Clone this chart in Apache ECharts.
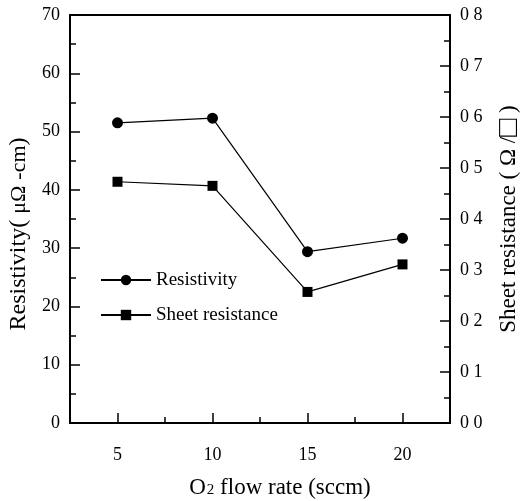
<!DOCTYPE html>
<html>
<head>
<meta charset="utf-8">
<script src="https://cdn.jsdelivr.net/npm/echarts@6/dist/echarts.min.js"></script>
<style>
  html, body { margin: 0; padding: 0; background: #fff; }
  #chart { width: 526px; height: 501px; }
</style>
</head>
<body>
<div id="chart"></div>
<script>
// O2 flow rate (sccm) and the measured film properties
const flowRates = [5, 10, 15, 20];
const resistivity = [51.5, 52.3, 29.4, 31.7];      // µΩ·cm
const sheetResistance = [0.473, 0.465, 0.257, 0.311]; // Ω/□

// Tick positions along the flow-rate axis (every 2.5 sccm, labelled every 5)
const flowTicks = ['2.5', '5', '7.5', '10', '12.5', '15', '17.5', '20', '22.5'];

const FONT = '"Liberation Serif", "Times New Roman", serif';
const INK = '#000';

const chart = echarts.init(document.getElementById('chart'), null, { renderer: 'canvas' });

const grid = {
  left: 70, right: 76, top: 15, bottom: 78,
  containLabel: false, outerBoundsMode: 'none',
  show: true, borderColor: INK, borderWidth: 2
};

const option = {
  animation: false,
  backgroundColor: '#fff',
  grid: grid,
  legend: {
    orient: 'vertical',
    left: 95,
    top: 265,
    itemWidth: 50,
    itemHeight: 13,
    itemGap: 15,
    textStyle: { fontFamily: FONT, fontSize: 19, color: INK, lineHeight: 20 },
    data: ['Resistivity', 'Sheet resistance']
  },
  xAxis: [
    {
      type: 'value',
      min: 2.5,
      max: 22.5,
      interval: 2.5,
      name: 'O{sub|2} flow rate (sccm)',
      nameLocation: 'middle',
      nameGap: 53,
      nameTextStyle: {
        fontFamily: FONT, fontSize: 23, color: INK, padding: [0, 0, 0, 40],
        rich: { sub: { fontFamily: FONT, fontSize: 15, color: INK, padding: [6, 0, 0, 1] } }
      },
      axisLine: { lineStyle: { color: INK, width: 2 } },
      axisTick: { inside: true, length: 6, lineStyle: { color: INK, width: 1.5 } },
      axisLabel: {
        fontFamily: FONT, fontSize: 18, color: INK, margin: 23,
        formatter: v => (v % 5 === 0 ? String(v) : '')
      },
      splitLine: { show: false }
    },
    {
      // longer ticks on the labelled flow rates
      type: 'category',
      position: 'bottom',
      boundaryGap: false,
      data: flowTicks,
      axisLine: { show: false },
      axisLabel: { show: false },
      axisTick: {
        inside: true, length: 10, lineStyle: { color: INK, width: 1.5 },
        interval: (idx) => idx % 2 === 1
      },
      splitLine: { show: false }
    }
  ],
  yAxis: [
    {
      type: 'value',
      min: 0,
      max: 70,
      interval: 10,
      position: 'left',
      name: 'Resistivity( {u|μΩ} {u|-cm})',
      nameLocation: 'middle',
      nameRotate: 90,
      nameGap: 37,
      nameTextStyle: {
        fontFamily: FONT, fontSize: 24, color: INK, padding: [0, 30, 0, 0],
        rich: { u: { fontFamily: FONT, fontSize: 22, color: INK } }
      },
      axisLine: { show: true, lineStyle: { color: INK, width: 2 } },
      axisTick: { show: true, inside: true, length: 10, lineStyle: { color: INK, width: 1.5 } },
      minorTick: { show: true, splitNumber: 2, length: 6, lineStyle: { color: INK, width: 1.5 } },
      axisLabel: { fontFamily: FONT, fontSize: 18, color: INK, margin: 10 },
      splitLine: { show: false }
    },
    {
      type: 'value',
      min: 0,
      max: 0.8,
      interval: 0.1,
      position: 'right',
      name: 'Sheet resistance ( Ω /{box|□} )',
      nameLocation: 'middle',
      nameRotate: 90,
      nameGap: 44,
      nameTextStyle: {
        fontFamily: FONT, fontSize: 23, color: INK,
        rich: { box: { fontFamily: FONT, fontSize: 30, color: INK } }
      },
      axisLine: { show: true, lineStyle: { color: INK, width: 2 } },
      axisTick: { show: true, inside: true, length: 10, lineStyle: { color: INK, width: 1.5 } },
      minorTick: { show: true, splitNumber: 2, length: 6, lineStyle: { color: INK, width: 1.5 } },
      axisLabel: {
        fontFamily: FONT, fontSize: 18, color: INK, margin: 10,
        formatter: v => v.toFixed(1).replace('.', ' ')
      },
      splitLine: { show: false }
    }
  ],
  series: [
    {
      name: 'Resistivity',
      type: 'line',
      xAxisIndex: 0,
      yAxisIndex: 0,
      data: flowRates.map((x, i) => [x, resistivity[i]]),
      symbol: 'circle',
      symbolSize: 11,
      itemStyle: { color: INK },
      lineStyle: { color: INK, width: 1.2 }
    },
    {
      name: 'Sheet resistance',
      type: 'line',
      xAxisIndex: 0,
      yAxisIndex: 1,
      data: flowRates.map((x, i) => [x, sheetResistance[i]]),
      symbol: 'rect',
      symbolSize: 10,
      itemStyle: { color: INK },
      lineStyle: { color: INK, width: 1.2 }
    }
  ]
};

chart.setOption(option);
</script>
</body>
</html>
